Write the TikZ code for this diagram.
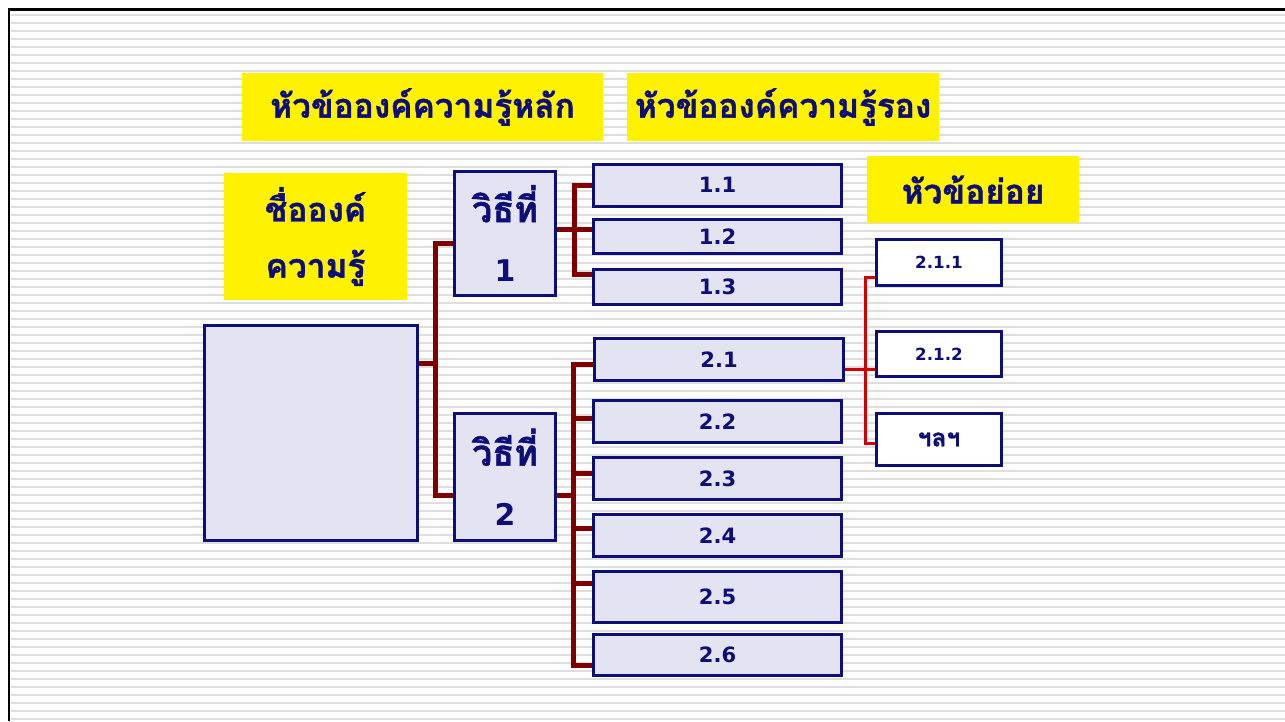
\documentclass[tikz,border=0pt]{standalone}
\usepackage{fontspec}
\newfontfamily\thaifont[Script=Thai, BoldFeatures={FakeBold=1.2}]{Loma}
\newfontfamily\numfont{DejaVu Sans}
\usetikzlibrary{positioning}
\definecolor{navy}{RGB}{14,14,120}
\definecolor{lav}{RGB}{227,227,242}
\definecolor{darkred}{RGB}{128,0,0}
\definecolor{brightred}{RGB}{210,0,0}
\definecolor{stripe}{RGB}{222,222,222}
\begin{document}
\begin{tikzpicture}[x=0.02cm,y=-0.02cm,
  heading/.style={fill=yellow, text=navy, inner sep=0pt, align=center,
    font=\thaifont\bfseries\fontsize{19}{32}\selectfont},
  topic/.style={draw=navy, fill=lav, line width=0.06cm, inner sep=0pt, text=navy},
  method/.style={topic, align=center, font=\thaifont\bfseries\fontsize{20.5}{34}\selectfont},
  item/.style={topic, minimum width=4.96cm, font=\numfont\bfseries\fontsize{12}{14}\selectfont},
  subitem/.style={topic, fill=white, minimum width=2.5cm, font=\numfont\bfseries\fontsize{9.5}{12}\selectfont},
  trunk/.style={draw=darkred, line width=0.1cm},
  twig/.style={draw=brightred, line width=0.06cm}]
  \fill[white] (0,0) rectangle (1285,721);
  \useasboundingbox (0,0) rectangle (1285,721);
  \foreach \y in {15,23,...,719}
    \draw[stripe, line width=0.04cm] (11,\y) -- (1285,\y);
  \draw[line width=0.06cm] (9,721) -- (9,9) -- (1285,9);

  \node[heading, minimum width=7.22cm, minimum height=1.36cm] (main head) at (422.5,107) {หัวข้อองค์ความรู้หลัก};
  \node[heading, minimum width=6.24cm, minimum height=1.36cm] (second head) at (783,107) {หัวข้อองค์ความรู้รอง};
  \node[heading, minimum width=4.24cm, minimum height=1.34cm] (sub head) at (973,189.5) {หัวข้อย่อย};
  \node[heading, minimum width=3.66cm, minimum height=2.54cm] (name head) at (315.5,236.5) {ชื่อองค์\\ความรู้};

  \node[topic, minimum width=4.26cm, minimum height=4.3cm] (main) at (311,433) {};
  \node[method, minimum width=2.02cm, minimum height=2.48cm] (w1) at (505,233.5) {วิธีที่\\{\numfont\fontsize{17}{20}\selectfont 1}};
  \node[method, minimum width=2.02cm, minimum height=2.54cm] (w2) at (505,477) {วิธีที่\\{\numfont\fontsize{17}{20}\selectfont 2}};

  \node[item, minimum height=0.84cm] (n11) at (717.5,185) {1.1};
  \node[item, minimum height=0.68cm] (n12) at (717.5,236.5) {1.2};
  \node[item, minimum height=0.7cm] (n13) at (717.5,287) {1.3};
  \node[item, minimum height=0.84cm, minimum width=4.98cm] (n21) at (719,359.5) {2.1};
  \node[item, minimum height=0.84cm] (n22) at (717.5,421.5) {2.2};
  \node[item, minimum height=0.84cm] (n23) at (717.5,478.5) {2.3};
  \node[item, minimum height=0.84cm] (n24) at (717.5,535.5) {2.4};
  \node[item, minimum height=1.02cm] (n25) at (717.5,597) {2.5};
  \node[item, minimum height=0.82cm] (n26) at (717.5,655) {2.6};

  \node[subitem, minimum height=0.92cm] (s1) at (939,262.5) {2.1.1};
  \node[subitem, minimum height=0.9cm] (s2) at (939,354) {2.1.2};
  \node[subitem, minimum height=1.04cm] (s3) at (939,439.5) {\thaifont\fontsize{14}{16}\selectfont ฯลฯ};

  \draw[trunk] ([yshift=1.4cm]main.east) -- ++(17,0) coordinate (j0);
  \draw[trunk] ([yshift=-0.19cm]w1.west) -| (j0) |- ([yshift=-0.36cm]w2.west);

  \draw[trunk] ([yshift=0.09cm]w1.east) -- ++(18,0) coordinate (j1) -- (j1 -| n12.west);
  \draw[trunk] (n11.west) -| (j1) |- ([yshift=0.26cm]n13.west);

  \draw[trunk] ([yshift=-0.36cm]w2.east) -- ++(17,0) coordinate (j2);
  \draw[trunk] ([yshift=-0.09cm]n21.west) -| (j2) |- ([yshift=-0.2cm]n26.west);
  \draw[trunk] ([yshift=0.07cm]n22.west -| j2) -- ([yshift=0.07cm]n22.west);
  \draw[trunk] ([yshift=0.11cm]n23.west -| j2) -- ([yshift=0.11cm]n23.west);
  \draw[trunk] ([yshift=0.15cm]n24.west -| j2) -- ([yshift=0.15cm]n24.west);
  \draw[trunk] ([yshift=0.28cm]n25.west -| j2) -- ([yshift=0.28cm]n25.west);

  \draw[twig] ([yshift=-0.19cm]n21.east) -- ++(21,0) coordinate (j3);
  \draw[twig] ([yshift=-0.29cm]s1.west) -| (j3) |- ([yshift=-0.07cm]s3.west);
  \draw[twig] (j3) -- (j3 -| s2.west);
\end{tikzpicture}
\end{document}
